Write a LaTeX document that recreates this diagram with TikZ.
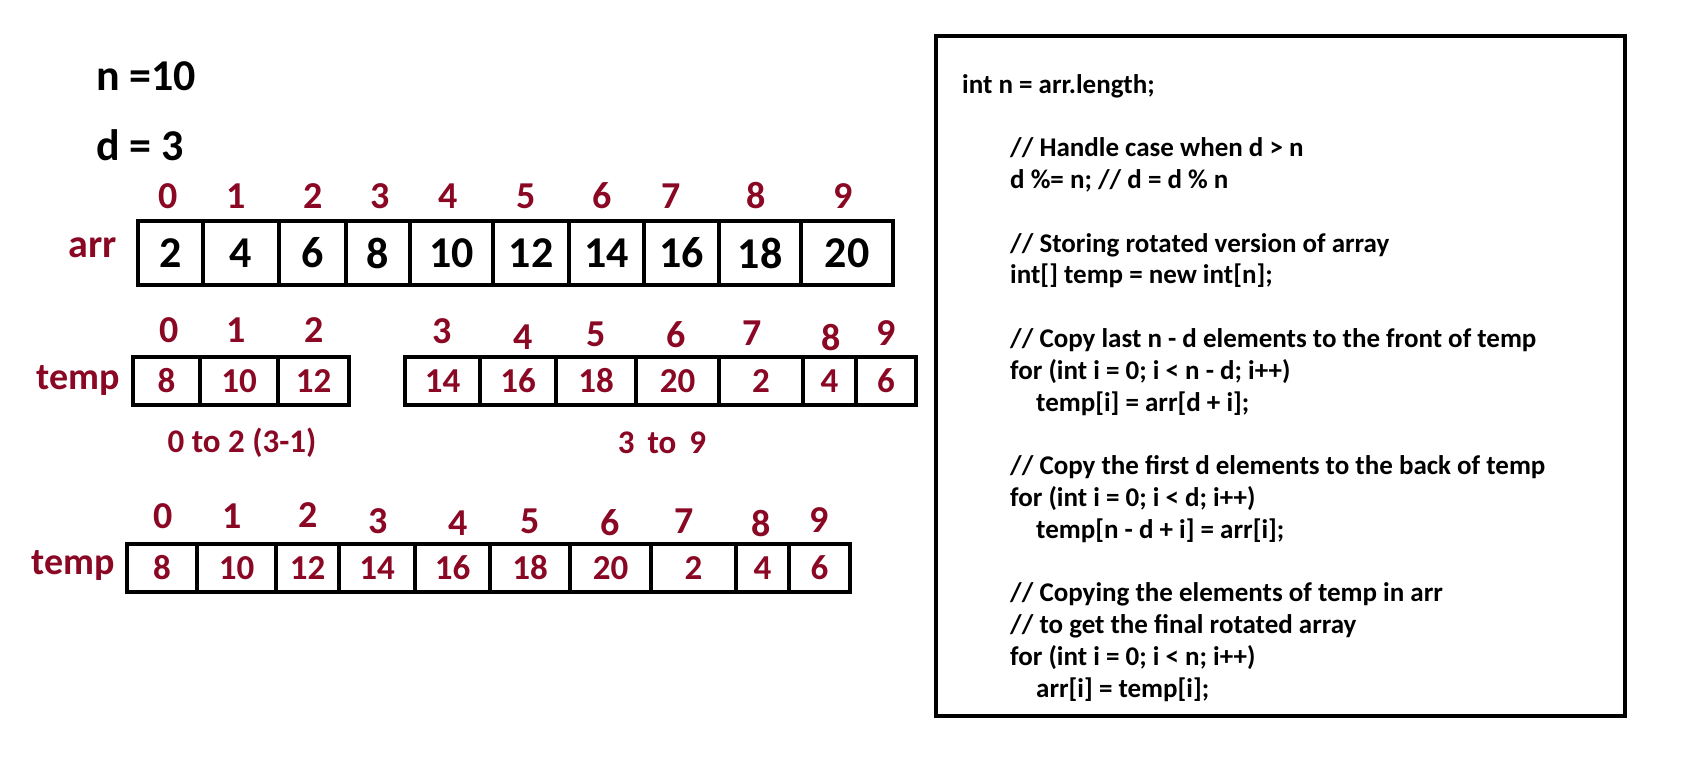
\documentclass[tikz,border=0pt]{standalone}
\usepackage{fontspec}
\setmainfont{Carlito}
\usetikzlibrary{positioning}
\definecolor{idxred}{RGB}{138,8,36}

\tikzset{
  cell/.style={draw, line width=4.5pt, inner sep=0pt, minimum height=#1},
  idx/.style={text=idxred, font=\fontsize{38}{40}\selectfont\bfseries, inner sep=0pt},
  rowlabel/.style={text=idxred, font=\fontsize{40}{42}\selectfont\bfseries, inner sep=0pt},
  bigval/.style={font=\fontsize{44}{46}\selectfont\bfseries},
  redval/.style={text=idxred, font=\fontsize{35}{37}\selectfont\bfseries},
  note/.style={text=idxred, font=\fontsize{33}{35}\selectfont\bfseries, inner sep=0pt},
  codetext/.style={align=left, inner sep=0pt, font=\fontsize{27}{31.8}\selectfont\bfseries}
}

\begin{document}
\begin{tikzpicture}[x=1pt, y=-1pt, line join=miter]
\useasboundingbox (0,0) rectangle (1708,784);

% n e d
\node[bigval, anchor=west, inner sep=0pt] (nval) at (96,76) {n =10};
\node[bigval, anchor=west, inner sep=0pt] (dval) at (96,145) {d = 3};

% arr
\node[rowlabel] (arrlbl) at (93,248) {arr};
\foreach \l/\r/\v [count=\i from 0] in {138/203/2, 203/279/4, 279/346/6, 346/410/8, 410/493/10,
    493/569/12, 569/644/14, 644/719/16, 719/801/18, 801/893/20}
  \node[cell=64, bigval, minimum width={\r-\l}] (arr\i) at ({(\l+\r)/2},253) {\v};
\foreach \x [count=\i from 0] in {168,236,313,380,448,526,602,671,756,843}
  \node[idx] (ai\i) at (\x,196) {\i};

% temp, due pezzi
\node[rowlabel, font=\fontsize{38}{40}\selectfont\bfseries] (tmplbl) at (78,380) {temp};
\foreach \l/\r/\v [count=\i from 0] in {133/200/8, 200/278/10, 278/349/12}
  \node[cell=48, redval, minimum width={\r-\l}] (ta\i) at ({(\l+\r)/2},381) {\v};
\foreach \l/\r/\v [count=\i from 3] in {405/480/14, 480/556/16, 556/636/18, 636/719/20,
    719/803/2, 803/856/4, 856/916/6}
  \node[cell=48, redval, minimum width={\r-\l}] (ta\i) at ({(\l+\r)/2},381) {\v};
\foreach \x/\y [count=\i from 0] in {169/330, 236/330, 314/330, 442/331, 523/337,
    596/334, 676/335, 752/333, 831/338, 886/333}
  \node[idx] (ti\i) at (\x,\y) {\i};
\node[note] (lowpart) at (242,443) {0 to 2 (3-1)};
\node[note] (highpart) at (662,443) {3\, to\, 9};

% temp finale
\node[rowlabel, font=\fontsize{38}{40}\selectfont\bfseries] (finlbl) at (73,565) {temp};
\foreach \l/\r/\v [count=\i from 0] in {127/197/8, 197/276/10, 276/339/12, 339/415/14,
    415/490/16, 490/570/18, 570/651/20, 651/736/2, 736/789/4, 789/850/6}
  \node[cell=48, redval, minimum width={\r-\l}] (tb\i) at ({(\l+\r)/2},568) {\v};
\foreach \x/\y [count=\i from 0] in {163/516, 232/516, 308/515, 378/521, 458/523,
    530/521, 610/523, 684/521, 761/524, 819/520}
  \node[idx] (fi\i) at (\x,\y) {\i};

% codice
\node[draw, line width=4pt, inner sep=0pt, minimum width=689, minimum height=680]
  (codebox) at (1280.5,376) {};
\node[codetext, anchor=north west] (code) at (962,74) {%
int n = arr.length;\\[31.8pt]
\hspace*{48pt}// Handle case when d > n\\
\hspace*{48pt}d \%= n; // d = d \% n\\[31.8pt]
\hspace*{48pt}// Storing rotated version of array\\
\hspace*{48pt}int[] temp = new int[n];\\[31.8pt]
\hspace*{48pt}// Copy last n - d elements to the front of temp\\
\hspace*{48pt}for (int i = 0; i < n - d; i++)\\
\hspace*{74pt}temp[i] = arr[d + i];\\[31.8pt]
\hspace*{48pt}// Copy the first d elements to the back of temp\\
\hspace*{48pt}for (int i = 0; i < d; i++)\\
\hspace*{74pt}temp[n - d + i] = arr[i];\\[31.8pt]
\hspace*{48pt}// Copying the elements of temp in arr\\
\hspace*{48pt}// to get the final rotated array\\
\hspace*{48pt}for (int i = 0; i < n; i++)\\
\hspace*{74pt}arr[i] = temp[i];};

\end{tikzpicture}
\end{document}
